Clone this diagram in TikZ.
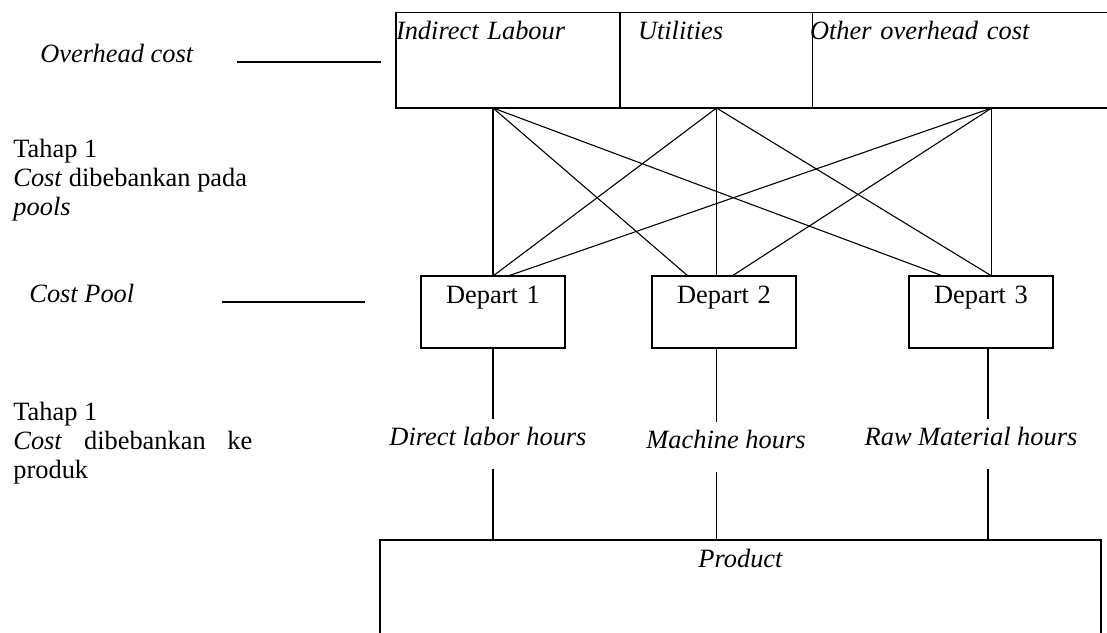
\documentclass[tikz,border=0pt]{standalone}
\usepackage{fontspec}
\setmainfont{Liberation Serif}
\usetikzlibrary{positioning}
\tikzset{
x=0.5pt, y=-0.5pt, % one unit is one pixel, y runs down
font=\fontsize{13.2}{14.5}\selectfont,
}
\tikzstyle{cell} = [rectangle, draw, line width=0.75pt, inner sep=0pt, outer sep=0pt,
    text height=13.15pt, text depth=34.5pt, align=left, font=\fontsize{13.2}{14.5}\selectfont\itshape]
\tikzstyle{dept} = [rectangle, draw, line width=0.75pt, inner sep=0pt, outer sep=0pt,
    text width=72pt, text height=13.5pt, text depth=22.5pt, align=center]
\tikzstyle{product} = [rectangle, draw, line width=0.75pt, inner sep=0pt, outer sep=0pt,
    text width=360.5pt, text height=13.5pt, text depth=41.5pt, align=center, font=\fontsize{13.2}{14.5}\selectfont\itshape]
\tikzstyle{basis} = [inner sep=0pt, text height=13pt, text depth=12pt, anchor=base,
    font=\fontsize{13.2}{14.5}\selectfont\itshape]
\tikzstyle{stage} = [inner sep=0pt, align=left, anchor=north west]
\tikzstyle{line} = [draw, line width=0.55pt]
\tikzstyle{pointer} = [draw, line width=0.8pt]

\begin{document}
\begin{tikzpicture}
\useasboundingbox (0,0) rectangle (1107,632);

% overhead cost
\node [cell, text width=112pt, anchor=north west] (il) at (396,12.7) {Indirect Labour};
\node [cell, text width=96.35pt, right=0pt of il] (ut) {\hspace*{9pt}Utilities};
\node [cell, text width=149pt, right=0pt of ut] (oc) {\hspace*{-1.35pt}Other overhead cost};
\coordinate (a1) at ([xshift=-7.5pt]il.south);
\coordinate (a2) at ([xshift=0.075pt]ut.south);
\coordinate (a3) at ([xshift=15pt]oc.south);

% cost pools
\node [dept, anchor=north west] (d1) at (421,276) {Depart 1};
\node [dept, right=43.5pt of d1] (d2) {Depart 2};
\node [dept, right=56.5pt of d2] (d3) {Depart 3};
\coordinate (b3) at ([xshift=3.5pt]d3.south);

% cost drivers and product
\node [basis] (dl) at (488,445) {Direct labor hours};
\node [basis] (mh) at (726,448) {Machine hours};
\node [basis] (rm) at (971,445) {Raw Material hours};
\node [product, anchor=north west] (prod) at (380,540) {Product};

% left side
\node [anchor=base west, inner sep=0pt] (oh) at (40,62) {\textit{Overhead cost}};
\node [stage] (s1) at (13,139) {Tahap 1\\\textit{Cost} dibebankan pada\\\textit{pools}};
\node [anchor=base west, inner sep=0pt] (cp) at (29,302) {\textit{Cost Pool}};
\node [stage] (s2) at (13,402) {Tahap 1\\\makebox[119.5pt][s]{\textit{Cost} dibebankan ke}\\produk};

  \path [pointer, shorten <=21.5pt, shorten >=7.5pt] (oh.base east) -- (oh.base east -| il.west);
  \path [pointer, shorten <=43.5pt, shorten >=28pt] (cp.base east) -- (cp.base east -| d1.west);

  \path [line] (a1) -- (a1 |- d1.north);
  \path [line] (a1) -- ([xshift=-18pt]d2.north);
  \path [line] (a1) -- ([xshift=-19pt]d3.north);
  \path [line] (a2) -- (a1 |- d1.north);
  \path [line] (a2) -- (a2 |- d2.north);
  \path [line] (a2) -- (a3 |- d3.north);
  \path [line] (a3) -- ([xshift=7.5pt]d1.north);
  \path [line] (a3) -- ([xshift=4pt]d2.north);
  \path [line] (a3) -- (a3 |- d3.north);

  \path [line] (d1.south) -- (d1.south |- dl.north);
  \path [line] (d1.south |- dl.south) -- (d1.south |- prod.north);
  \path [line] (a2 |- d2.south) -- (a2 |- mh.north);
  \path [line] (a2 |- mh.south) -- (a2 |- prod.north);
  \path [line] (b3) -- (b3 |- rm.north);
  \path [line] (b3 |- rm.south) -- (b3 |- prod.north);

\end{tikzpicture}
\end{document}
